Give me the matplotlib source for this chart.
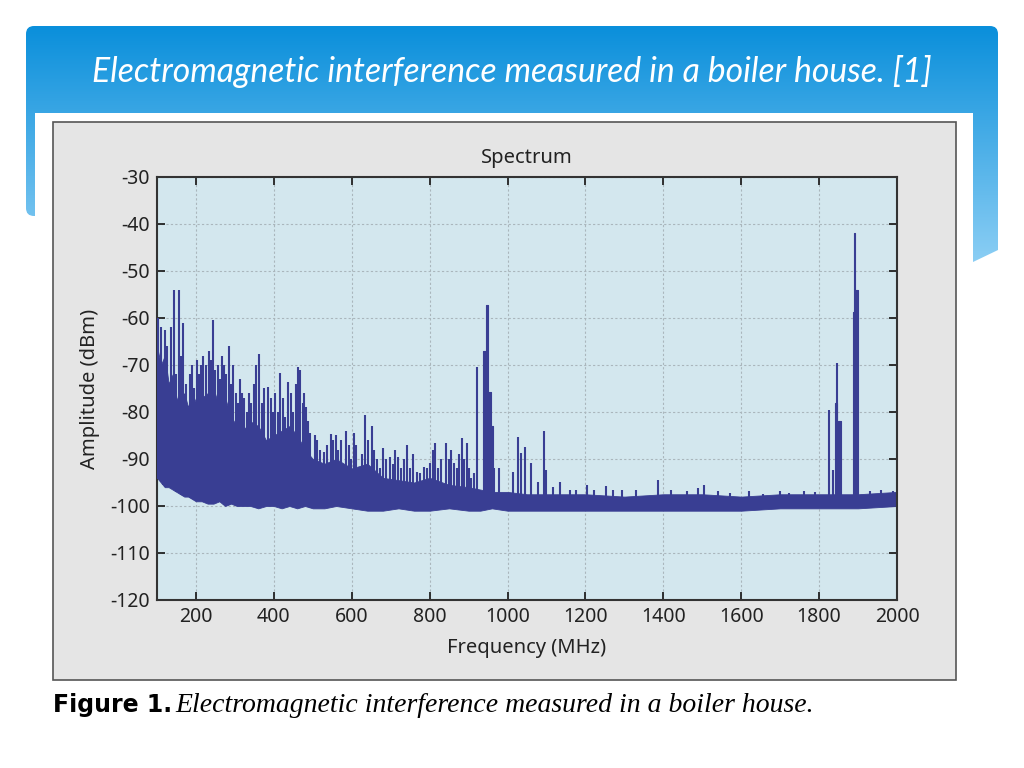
import numpy as np
import matplotlib
matplotlib.use("Agg")
import matplotlib.pyplot as plt
from matplotlib.patches import FancyBboxPatch, Polygon, Rectangle

plt.rcParams["axes.unicode_minus"] = False

# ---- data ----------------------------------------------------------------
# dense part of the spectrum: upper edge of the solid fill and the noise floor
body_f = [100, 110, 120, 130, 140, 150, 160, 170, 180, 190, 200, 215, 230, 245,
          260, 275, 290, 305, 320, 340, 360, 380, 400, 420, 440, 460, 480, 500,
          530, 560, 600, 640, 680, 720, 760, 800, 850, 900, 930, 960, 1000,
          1050, 1100, 1150, 1200, 1300, 1400, 1500, 1600, 1700, 1800, 1900, 2000]
body_top = [-66, -70, -68, -74, -72, -77, -78, -76, -79, -76, -78, -77, -76, -75,
            -79, -77, -81, -83, -84, -82, -83, -86, -85, -84, -83, -85, -88, -90,
            -91, -90, -92, -91, -94, -94.5, -95, -94, -95.5, -96, -96.5, -97, -97,
            -97.5, -97.5, -97.5, -97.5, -98, -97.5, -97.5, -98, -97.5, -97.5, -97.5, -97]
floor = [-94, -95, -96, -96, -96.5, -97, -97.5, -98, -98, -98.5, -99, -99, -99.5, -99.5,
         -99, -100, -99.5, -100, -100, -100, -100.5, -100, -100, -100.5, -100, -100.5, -100, -100.5,
         -100.5, -100, -100.5, -101, -101, -100.5, -101, -101, -100.5, -101, -101, -100.5, -101,
         -101, -101, -101, -101, -101, -101, -101, -101, -100.5, -100.5, -100.5, -100]

# narrow spikes (MHz, dBm)
spike_f = [102, 110, 115, 120, 125, 135, 143, 150, 156, 162, 167, 175, 184, 190,
           195, 202, 208, 212, 218, 225, 233, 238, 244, 250, 256, 262, 266, 272,
           278, 284, 290, 295, 303, 308, 313, 318, 323, 330, 336, 342, 348, 354,
           362, 370, 376, 384, 392, 398, 404, 410, 416, 424, 428, 436, 444, 450,
           456, 462, 468, 474, 478, 483, 488, 493, 505, 512, 518, 528, 536, 546,
           552, 559, 566, 572, 585, 592, 598, 606, 612, 618, 626, 634, 642, 651,
           658, 664, 672, 680, 688, 698, 706, 712, 719, 726, 734, 741, 750, 758,
           767, 774, 785, 792, 802, 808, 814, 822, 830, 842, 850, 856, 862, 870,
           876, 882, 888, 895, 900, 906, 914, 921, 965, 978, 1014, 1028, 1034,
           1046, 1059, 1077, 1094, 1099, 1118, 1136, 1160, 1177, 1203, 1222, 1253,
           1270, 1293, 1330, 1387, 1420, 1460, 1490, 1504, 1540, 1571, 1620, 1656,
           1700, 1722, 1760, 1790, 1826, 1836, 1847, 1930, 1960, 1990]
spike_v = [-60, -62, -70, -62.5, -66, -62, -54, -72, -54, -68, -61, -74, -72, -70,
           -75, -69, -72, -70, -68, -70, -67, -69, -60.5, -71, -70, -73, -68, -70,
           -72, -66, -74, -70, -76, -78, -73, -76, -77, -80, -76, -78, -74, -70,
           -67.7, -78, -75, -74.7, -77, -80, -76, -80, -71.7, -77, -81, -73.6, -76, -80,
           -74, -70.4, -71, -78, -76, -79, -82, -84.5, -85, -86, -88, -88.5, -87, -84.7,
           -86, -85, -88, -86, -84, -87, -90, -84.5, -87, -91.7, -89, -80.6, -86, -83,
           -88, -90, -92, -87.7, -90, -89.6, -91, -88, -89.6, -92, -90, -87, -92, -89,
           -92.8, -93, -91.7, -92, -90.9, -88, -86.6, -92, -90, -86.6, -90, -88, -90.9, -92,
           -89, -85.5, -90, -86.6, -92, -94, -93, -70.4, -92, -92, -92.8, -85.3, -88.7,
           -87.4, -90.8, -94.8, -84, -92.3, -96, -95, -96.5, -96.6, -95.5, -96.5, -95.7,
           -96.5, -96.7, -96.5, -94.5, -96.5, -96.8, -96.2, -95.5, -96.8, -97.2, -96.8, -97.5,
           -96.8, -97.2, -96.8, -97, -79.6, -92.3, -69.6, -96.8, -96.5, -96.8]

# wider blocks (start MHz, end MHz, dBm)
block_start = [936, 944, 950, 957, 1840, 1848, 1886, 1889, 1893]
block_end = [944, 950, 957, 962, 1845, 1857, 1889, 1893, 1901]
block_v = [-67, -57.2, -75.7, -83, -78, -82, -58.7, -42, -54]

x_ticks = [200, 400, 600, 800, 1000, 1200, 1400, 1600, 1800, 2000]
y_ticks = [-30, -40, -50, -60, -70, -80, -90, -100, -110, -120]

navy = "#393e93"
plot_bg = "#d3e7ee"

# ---- slide ---------------------------------------------------------------
fig = plt.figure(figsize=(10.24, 7.68), dpi=100)
bg = fig.add_axes([0, 0, 1, 1])
bg.set_xlim(0, 1024)
bg.set_ylim(768, 0)
bg.axis("off")

grad = np.linspace(0, 1, 256).reshape(-1, 1)
cmap = matplotlib.colors.LinearSegmentedColormap.from_list("hdr", ["#0a8fdb", "#8fd0f5"])

hdr = FancyBboxPatch((26, 26), 972, 190, boxstyle="round,pad=0,rounding_size=8",
                     facecolor="none", edgecolor="none")
bg.add_patch(hdr)
im = bg.imshow(grad, extent=[26, 998, 270, 26], cmap=cmap, aspect="auto", zorder=1)
im.set_clip_path(hdr)

wedge = Polygon([(960, 100), (998, 100), (998, 250), (973, 262), (960, 262)],
                closed=True, facecolor="none", edgecolor="none")
bg.add_patch(wedge)
im2 = bg.imshow(grad, extent=[26, 998, 270, 26], cmap=cmap, aspect="auto", zorder=1)
im2.set_clip_path(wedge)

bg.add_patch(Rectangle((35, 113), 938, 655, facecolor="white", edgecolor="none", zorder=2))
bg.add_patch(Rectangle((53, 122), 903, 558, facecolor="#e5e5e5", edgecolor="#555555",
                       linewidth=1.2, zorder=3))

bg.text(512, 72, "Electromagnetic interference measured in a boiler house. [1]",
        color="white", fontsize=24.3, fontstyle="italic", family="Lato",
        ha="center", va="center", zorder=4)

bg.text(53, 705, "Figure 1.", fontsize=17, fontweight="bold", family="DejaVu Sans",
        ha="left", va="center", zorder=4)
bg.text(175, 706, "Electromagnetic interference measured in a boiler house.",
        fontsize=20, fontstyle="italic", family="Liberation Serif",
        ha="left", va="center", zorder=4)

# ---- spectrum ------------------------------------------------------------
ax = fig.add_axes([157 / 1024, 1 - 600 / 768, 740 / 1024, 423 / 768], zorder=5)
ax.set_facecolor(plot_bg)

ax.fill_between(body_f, floor, body_top, color=navy, linewidth=0.6, zorder=2)
spike_base = np.interp(spike_f, body_f, floor)
ax.vlines(spike_f, spike_base, spike_v, color=navy, linewidth=1.5, zorder=3)
for s, e, v in zip(block_start, block_end, block_v):
    ax.fill_between([s, e], [-100, -100], [v, v], color=navy, linewidth=0.8, zorder=3)

ax.set_xlim(100, 2000)
ax.set_ylim(-120, -30)
ax.set_xticks(x_ticks)
ax.set_yticks(y_ticks)
ax.grid(True, linestyle=(0, (2, 2)), color="#aab6bc", linewidth=0.8, zorder=0)
ax.set_axisbelow(True)
ax.tick_params(direction="in", length=6, width=1.3, top=True, right=True,
               labelsize=14, colors="#222222", pad=5)
for sp in ax.spines.values():
    sp.set_color("#333333")
    sp.set_linewidth(1.5)
for lab in ax.get_xticklabels() + ax.get_yticklabels():
    lab.set_family("Noto Sans")

ax.set_title("Spectrum", fontsize=14.5, family="Noto Sans", color="#222222", pad=10)
ax.set_xlabel("Frequency (MHz)", fontsize=14.5, family="Noto Sans", color="#222222", labelpad=8)
ax.set_ylabel("Amplitude (dBm)", fontsize=14.5, family="Noto Sans", color="#222222", labelpad=7)

fig.savefig("out.png", dpi=100)
